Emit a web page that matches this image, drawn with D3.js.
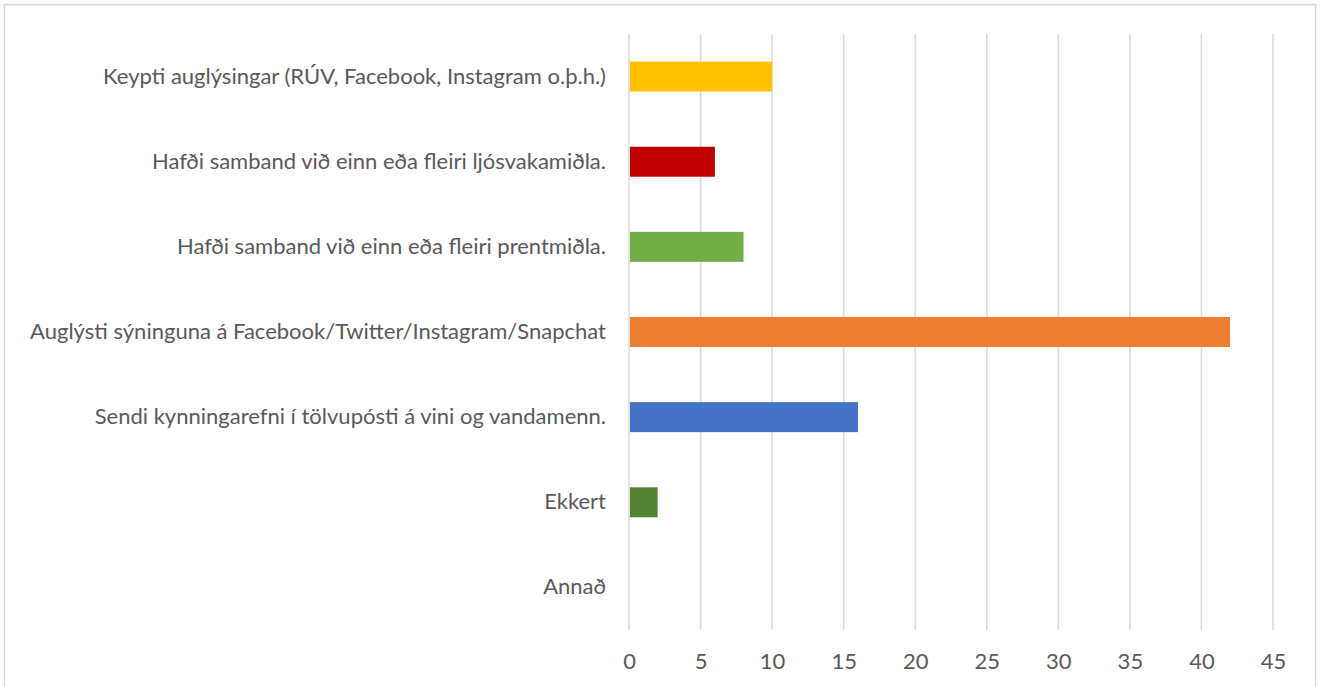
<!DOCTYPE html>
<html>
<head>
<meta charset="utf-8">
<script src="https://cdn.jsdelivr.net/npm/d3@7"></script>
<style>
  body { margin: 0; background: #fff; }
  text { font-family: Lato, "Open Sans", sans-serif; fill: #595959; }
</style>
</head>
<body>
<div id="chart"></div>
<script>
// categories top to bottom
var categories = [
  "Keypti auglýsingar (RÚV, Facebook, Instagram o.þ.h.)",
  "Hafði samband við einn eða fleiri ljósvakamiðla.",
  "Hafði samband við einn eða fleiri prentmiðla.",
  "Auglýsti sýninguna á Facebook/Twitter/Instagram/Snapchat",
  "Sendi kynningarefni í tölvupósti á vini og vandamenn.",
  "Ekkert",
  "Annað"
];
var values = [10, 6, 8, 42, 16, 2, 0];
var barColors = ["#FFC000", "#C00000", "#70AD47", "#ED7D31", "#4472C4", "#548235", "#A5A5A5"];
var xTicks = [0, 5, 10, 15, 20, 25, 30, 35, 40, 45];

var svgWidth = 1323;
var svgHeight = 687;

var margin = { top: 34, right: 50, bottom: 57, left: 629 };
var width = 1273 - margin.left;
var height = svgHeight - margin.top - margin.bottom;

var svg = d3.select("#chart").append("svg")
  .attr("width", svgWidth)
  .attr("height", svgHeight);

// outer border
svg.append("rect")
  .attr("x", 4.5).attr("y", 4.5)
  .attr("width", 1311).attr("height", 700)
  .attr("fill", "none")
  .attr("stroke", "#d9d9d9")
  .attr("stroke-width", 1.5);

var chartGroup = svg.append("g")
  .attr("transform", `translate(${margin.left}, ${margin.top})`);

var xScale = d3.scaleLinear().domain([0, 45]).range([0, width]);
var yScale = d3.scaleBand().domain(categories).range([0, height]).paddingInner(0.648).paddingOuter(0.324);

// gridlines
chartGroup.selectAll(".grid")
  .data(xTicks)
  .enter()
  .append("line")
  .attr("x1", d => xScale(d)).attr("x2", d => xScale(d))
  .attr("y1", 0).attr("y2", height)
  .attr("stroke", "#d9d9d9")
  .attr("stroke-width", 1.5);

// bars
chartGroup.selectAll(".bar")
  .data(values)
  .enter()
  .append("rect")
  .attr("x", xScale(0) + 1)
  .attr("y", (d, i) => yScale(categories[i]))
  .attr("width", d => Math.max(0, xScale(d) - xScale(0) - 1))
  .attr("height", yScale.bandwidth())
  .attr("fill", (d, i) => barColors[i]);

var fontSize = 22;

// x axis labels
var xAxis = d3.axisBottom(xScale).tickValues(xTicks).tickSize(0).tickPadding(23);
var xg = chartGroup.append("g")
  .attr("transform", `translate(0, ${height})`)
  .call(xAxis);
xg.select(".domain").remove();
xg.selectAll("text").attr("font-size", fontSize + "px").attr("font-family", null).attr("fill", "#595959");

// y axis labels
var yAxis = d3.axisLeft(yScale).tickSize(0).tickPadding(23);
var yg = chartGroup.append("g").call(yAxis);
yg.select(".domain").remove();
yg.selectAll("text").attr("font-size", fontSize + "px").attr("font-family", null).attr("fill", "#595959");
</script>
</body>
</html>
